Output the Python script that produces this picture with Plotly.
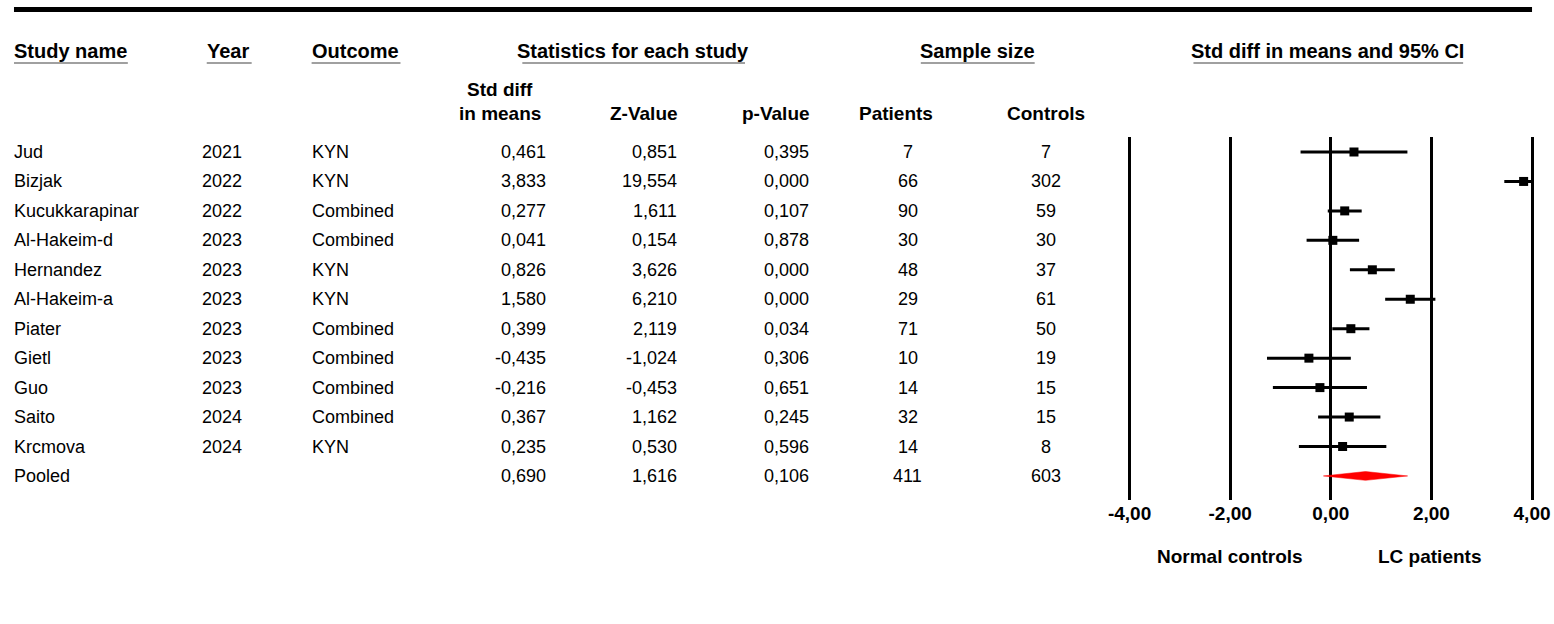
import plotly.graph_objects as go
import numpy as np

# ---------------- data ----------------
studies = ["Jud", "Bizjak", "Kucukkarapinar", "Al-Hakeim-d", "Hernandez", "Al-Hakeim-a",
           "Piater", "Gietl", "Guo", "Saito", "Krcmova"]
years = [2021, 2022, 2022, 2023, 2023, 2023, 2023, 2023, 2023, 2024, 2024]
outcomes = ["KYN", "KYN", "Combined", "Combined", "KYN", "KYN",
            "Combined", "Combined", "Combined", "Combined", "KYN"]
smd = [0.461, 3.833, 0.277, 0.041, 0.826, 1.580, 0.399, -0.435, -0.216, 0.367, 0.235]
ci_lower = [-0.601, 3.449, -0.060, -0.481, 0.380, 1.081, 0.030, -1.268, -1.151, -0.252, -0.634]
ci_upper = [1.523, 4.217, 0.614, 0.563, 1.272, 2.079, 0.768, 0.398, 0.719, 0.986, 1.104]
z_values = [0.851, 19.554, 1.611, 0.154, 3.626, 6.210, 2.119, -1.024, -0.453, 1.162, 0.530]
p_values = [0.395, 0.000, 0.107, 0.878, 0.000, 0.000, 0.034, 0.306, 0.651, 0.245, 0.596]
patients = [7, 66, 90, 30, 48, 29, 71, 10, 14, 32, 14]
controls = [7, 302, 59, 30, 37, 61, 50, 19, 15, 15, 8]

pooled_name = "Pooled"
pooled_smd = 0.690
pooled_lower = -0.147
pooled_upper = 1.527
pooled_z = 1.616
pooled_p = 0.106
pooled_patients = 411
pooled_controls = 603

tick_vals = [-4, -2, 0, 2, 4]
tick_labels = ["-4,00", "-2,00", "0,00", "2,00", "4,00"]
axis_min, axis_max = -4, 4

# ---------------- layout constants ----------------
W, H = 1554, 624
FONT = "Liberation Sans, Arial, sans-serif"
DATA_SIZE = 18
HEAD_SIZE = 20
FOOT_SIZE = 19


def px(x):
    return x / W


def py(y):
    return 1 - y / H


def fmt(v):
    return f"{v:.3f}".replace(".", ",")


n = len(studies)
rows = list(range(n))
pooled_row = n

fig = go.Figure()

# CI lines + squares (truncated at axis limits)
est = np.array(smd)
lo = np.clip(np.array(ci_lower), axis_min, axis_max)
hi = np.clip(np.array(ci_upper), axis_min, axis_max)
fig.add_trace(go.Scatter(
    x=est, y=rows, mode="markers",
    marker=dict(symbol="square", size=9, color="black"),
    error_x=dict(type="data", symmetric=False, array=hi - est, arrayminus=est - lo,
                 thickness=3, width=0, color="black"),
    cliponaxis=False, showlegend=False, hoverinfo="skip"))

# pooled diamond
dh = 0.15
fig.add_trace(go.Scatter(
    x=[pooled_lower, pooled_smd, pooled_upper, pooled_smd, pooled_lower],
    y=[pooled_row, pooled_row - dh, pooled_row, pooled_row + dh, pooled_row],
    mode="lines", fill="toself", fillcolor="red", line=dict(color="red", width=0.5),
    showlegend=False, hoverinfo="skip"))

ann = []
SHIFT = {"left": -2, "right": 2, "center": 0}


def text(x, y, s, xanchor="left", yref="y", size=DATA_SIZE, bold=False):
    ann.append(dict(x=px(x + SHIFT[xanchor]), xref="paper",
                    y=y if yref == "y" else py(y), yref=yref,
                    text=s, showarrow=False, xanchor=xanchor, yanchor="middle",
                    font=dict(family=FONT, size=size, color="black",
                              weight="bold" if bold else "normal")))


# table rows
all_names = studies + [pooled_name]
all_years = [str(y) for y in years] + [""]
all_out = outcomes + [""]
all_smd = smd + [pooled_smd]
all_z = z_values + [pooled_z]
all_p = p_values + [pooled_p]
all_pat = patients + [pooled_patients]
all_con = controls + [pooled_controls]

for i in range(n + 1):
    text(12, i, all_names[i])
    if all_years[i]:
        text(200, i, all_years[i])
    if all_out[i]:
        text(310, i, all_out[i])
    text(545, i, fmt(all_smd[i]), xanchor="right")
    text(676, i, fmt(all_z[i]), xanchor="right")
    text(808, i, fmt(all_p[i]), xanchor="right")
    text(907, i, str(all_pat[i]), xanchor="center")
    text(1045, i, str(all_con[i]), xanchor="center")

# headers
text(12, 51, "Study name", yref="paper", size=HEAD_SIZE, bold=True)
text(205, 51, "Year", yref="paper", size=HEAD_SIZE, bold=True)
text(310, 51, "Outcome", yref="paper", size=HEAD_SIZE, bold=True)
text(632, 51, "Statistics for each study", xanchor="center", yref="paper", size=HEAD_SIZE, bold=True)
text(977, 51, "Sample size", xanchor="center", yref="paper", size=HEAD_SIZE, bold=True)
text(1327, 51, "Std diff in means and 95% CI", xanchor="center", yref="paper", size=HEAD_SIZE, bold=True)

text(499, 90, "Std diff", xanchor="center", yref="paper", size=HEAD_SIZE - 1, bold=True)
text(499, 113, "in means", xanchor="center", yref="paper", size=HEAD_SIZE - 1, bold=True)
text(677, 113, "Z-Value", xanchor="right", yref="paper", size=HEAD_SIZE - 1, bold=True)
text(809, 113, "p-Value", xanchor="right", yref="paper", size=HEAD_SIZE - 1, bold=True)
text(895, 113, "Patients", xanchor="center", yref="paper", size=HEAD_SIZE - 1, bold=True)
text(1045, 113, "Controls", xanchor="center", yref="paper", size=HEAD_SIZE - 1, bold=True)

text(1230, 556, "Normal controls", xanchor="center", yref="paper", size=FOOT_SIZE, bold=True)
text(1429, 556, "LC patients", xanchor="center", yref="paper", size=FOOT_SIZE, bold=True)

shapes = [
    # top rule
    dict(type="line", xref="paper", yref="paper", x0=px(12), x1=px(1532), y0=py(9.5), y1=py(9.5),
         line=dict(color="black", width=5)),
]
# header underlines
for x0, x1 in [(12, 126), (205, 250), (310, 399), (521, 744), (920, 1034), (1193, 1463)]:
    shapes.append(dict(type="line", xref="paper", yref="paper", x0=px(x0), x1=px(x1),
                       y0=py(63), y1=py(63), line=dict(color="#808080", width=1.5)))

# plot area geometry (pixels)
x_left_px, x_right_px = 1129, 1532
unit = (x_right_px - x_left_px) / (axis_max - axis_min)
pad = 0.4
row0_px, row_step = 152, 29.45
top_px, bot_px = 137, 500

fig.update_layout(
    width=W, height=H, margin=dict(l=0, r=0, t=0, b=0),
    paper_bgcolor="white", plot_bgcolor="white",
    annotations=ann, shapes=shapes,
    xaxis=dict(domain=[px(x_left_px - pad * unit), px(x_right_px + pad * unit)],
               range=[axis_min - pad, axis_max + pad],
               tickvals=tick_vals, ticktext=tick_labels,
               showgrid=True, gridcolor="black", gridwidth=3,
               zeroline=False, showline=False, ticks="",
               tickfont=dict(family=FONT, size=FOOT_SIZE, color="black", weight="bold"),
               fixedrange=True),
    yaxis=dict(domain=[py(bot_px), py(top_px)],
               range=[(bot_px - row0_px) / row_step, (top_px - row0_px) / row_step],
               visible=False, showgrid=False, zeroline=False, fixedrange=True),
    showlegend=False,
)

fig.write_html("out.html", config={"displayModeBar": False},
               post_script="document.body.style.margin='0';")
